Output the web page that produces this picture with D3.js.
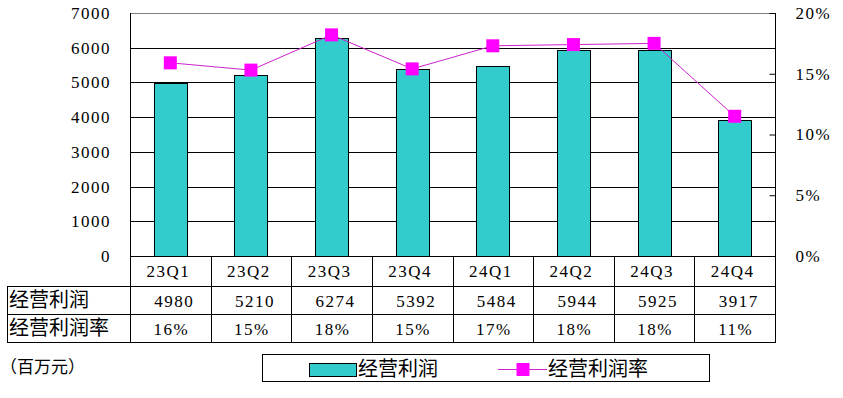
<!DOCTYPE html>
<html>
<head>
<meta charset="utf-8">
<script src="https://cdn.jsdelivr.net/npm/d3@7"></script>
<style>
  body { margin: 0; background: #fff; }
  svg { display: block; }
  .num { font-family: "Liberation Serif", serif; font-size: 17px; letter-spacing: 1.5px; fill: #000; }
  .cjk { font-family: "Noto Sans CJK SC", sans-serif; font-size: 20px; fill: #000; }
</style>
</head>
<body>
<svg id="chart"></svg>
<script>
// values
var quarters = ["23Q1","23Q2","23Q3","23Q4","24Q1","24Q2","24Q3","24Q4"];
var profit   = [4980, 5210, 6274, 5392, 5484, 5944, 5925, 3917];
var margin   = [15.9, 15.3, 18.2, 15.4, 17.3, 17.4, 17.5, 11.5];
var marginTxt = ["16%","15%","18%","15%","17%","18%","18%","11%"];
var leftTicks  = [0,1000,2000,3000,4000,5000,6000,7000];
var rightTicks = [0,5,10,15,20];
var rowNames = ["经营利润", "经营利润率"];

var W = 843, H = 398;
var pLeft = 130, pRight = 775, pTop = 13, pBottom = 256;
var tableLeft = 7, rowH = [30, 28, 28];

var svg = d3.select("#chart").attr("width", W).attr("height", H);

var x = d3.scaleBand().domain(quarters).range([pLeft, pRight]).paddingInner(0).paddingOuter(0);
var y = d3.scaleLinear().domain([0, 7000]).range([pBottom, pTop]);
var y2 = d3.scaleLinear().domain([0, 20]).range([pBottom, pTop]);

// grid lines
svg.append("g").selectAll("line").data(leftTicks.filter(function(d){return d>0;}))
    .enter().append("line")
    .attr("x1", pLeft).attr("x2", pRight)
    .attr("y1", function(d){return Math.round(y(d))+0.5;})
    .attr("y2", function(d){return Math.round(y(d))+0.5;})
    .style("stroke", function(d){return d==7000 ? "#808080" : "#000";})
    .style("stroke-width", 1);

// left axis labels (no tick marks)
var ax = d3.axisLeft(y).tickValues(leftTicks).tickSize(0).tickPadding(19).tickFormat(d3.format("d"));
var gl = svg.append("g").attr("transform", "translate(" + pLeft + ",0)").call(ax);
gl.select(".domain").remove();
gl.selectAll("text").attr("class", "num").attr("font-family", null).attr("font-size", null);

// right axis, ticks pointing inwards
var ax2 = d3.axisRight(y2).tickValues(rightTicks).tickSize(-6).tickPadding(20).tickFormat(function(d){return d + "%";});
var gr = svg.append("g").attr("transform", "translate(" + (pRight+0.5) + ",0)").call(ax2);
gr.select(".domain").remove();
gr.selectAll("line").style("stroke", "#000");
gr.selectAll("text").attr("class", "num").attr("font-family", null).attr("font-size", null);

// bars
var bw = 33;
svg.append("g").selectAll("rect").data(profit).enter().append("rect")
    .attr("x", function(d,i){return Math.round(x(quarters[i]) + x.bandwidth()/2 - bw/2) + 0.5;})
    .attr("y", function(d){return Math.round(y(d)) + 0.5;})
    .attr("width", bw)
    .attr("height", function(d){return Math.round(y(0)) - Math.round(y(d));})
    .style("fill", "#33CCCC").style("stroke", "#000").style("stroke-width", 1);

// margin line
var cx = function(d,i){return x(quarters[i]) + x.bandwidth()/2;};
svg.append("path").datum(margin)
    .attr("d", d3.line().x(cx).y(function(d){return y2(d);}))
    .style("fill", "none").style("stroke", "#CC22CC").style("stroke-width", 1);
svg.append("g").selectAll("rect").data(margin).enter().append("rect")
    .attr("x", function(d,i){return cx(d,i) - 6.5;})
    .attr("y", function(d){return y2(d) - 6.5;})
    .attr("width", 13).attr("height", 13)
    .style("fill", "#FF00FF");

// data table
var r1 = pBottom + rowH[0], r2 = r1 + rowH[1], r3 = r2 + rowH[2];
var tg = svg.append("g").style("stroke", "#000").style("stroke-width", 1);
tg.append("line").attr("x1", pLeft+0.5).attr("x2", pLeft+0.5).attr("y1", pTop).attr("y2", r3+0.5);
tg.append("line").attr("x1", pRight+0.5).attr("x2", pRight+0.5).attr("y1", pTop).attr("y2", r3+0.5);
tg.append("line").attr("x1", pLeft).attr("x2", pRight+1).attr("y1", pBottom+0.5).attr("y2", pBottom+0.5);
tg.append("line").attr("x1", tableLeft+0.5).attr("x2", tableLeft+0.5).attr("y1", r1).attr("y2", r3+0.5);
[r1, r2, r3].forEach(function(ry){
    tg.append("line").attr("x1", tableLeft).attr("x2", pRight+1).attr("y1", ry+0.5).attr("y2", ry+0.5);
});
tg.selectAll("line.div").data(quarters.slice(1)).enter().append("line")
    .attr("class", "div")
    .attr("x1", function(d){return Math.round(x(d))+0.5;})
    .attr("x2", function(d){return Math.round(x(d))+0.5;})
    .attr("y1", pBottom).attr("y2", r3);

var mid = function(d){return x(d) + x.bandwidth()/2;};
svg.append("g").selectAll("text").data(quarters).enter().append("text")
    .attr("class", "num").attr("text-anchor", "middle")
    .attr("x", function(d){return mid(d) - 2;}).attr("y", (pBottom + r1)/2).attr("dy", "0.35em")
    .text(function(d){return d;});
svg.append("g").selectAll("text").data(profit).enter().append("text")
    .attr("class", "num").attr("text-anchor", "middle")
    .attr("x", function(d,i){return mid(quarters[i]) + 4;}).attr("y", (r1 + r2)/2 + 1).attr("dy", "0.35em")
    .text(function(d){return d;});
svg.append("g").selectAll("text").data(marginTxt).enter().append("text")
    .attr("class", "num").attr("text-anchor", "middle")
    .attr("x", function(d,i){return mid(quarters[i]) + 1;}).attr("y", (r2 + r3)/2 + 1).attr("dy", "0.35em")
    .text(function(d){return d;});
svg.append("g").selectAll("text").data(rowNames).enter().append("text")
    .attr("class", "cjk")
    .attr("x", tableLeft + 2)
    .attr("y", function(d,i){return i==0 ? (r1+r2)/2 : (r2+r3)/2;}).attr("dy", "0.36em")
    .text(function(d){return d;});

// unit
svg.append("text").attr("class", "cjk").style("font-size", "17px")
    .attr("x", 0).attr("y", 367).attr("dy", "0.36em").text("（百万元）");

// legend
var lg = svg.append("g");
lg.append("rect").attr("x", 262.5).attr("y", 354.5).attr("width", 447).attr("height", 27)
    .style("fill", "#fff").style("stroke", "#000");
lg.append("rect").attr("x", 309.5).attr("y", 363.5).attr("width", 47).attr("height", 13)
    .style("fill", "#33CCCC").style("stroke", "#000");
lg.append("text").attr("class", "cjk").attr("x", 358).attr("y", 369).attr("dy", "0.36em").text("经营利润");
lg.append("line").attr("x1", 498).attr("x2", 547).attr("y1", 369.5).attr("y2", 369.5)
    .style("stroke", "#CC22CC");
lg.append("rect").attr("x", 516.5).attr("y", 363).attr("width", 13).attr("height", 13).style("fill", "#FF00FF");
lg.append("text").attr("class", "cjk").attr("x", 548).attr("y", 369).attr("dy", "0.36em").text("经营利润率");
</script>
</body>
</html>
